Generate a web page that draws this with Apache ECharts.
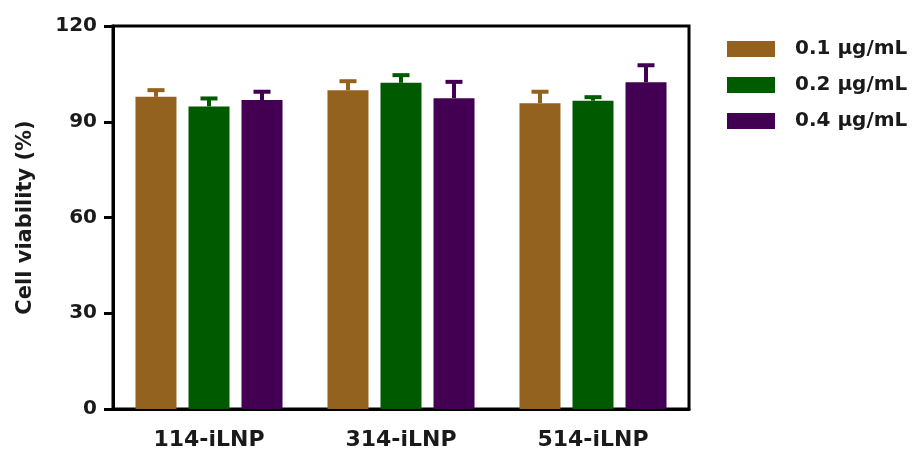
<!DOCTYPE html>
<html>
<head>
<meta charset="utf-8">
<script src="https://cdn.jsdelivr.net/npm/echarts@6/dist/echarts.min.js"></script>
<style>
  html, body { margin: 0; padding: 0; background: #fff; }
  #chart { width: 915px; height: 457px; }
</style>
</head>
<body>
<div id="chart"></div>
<script>
// Formulations on the x axis
const categories = ['114-iLNP', '314-iLNP', '514-iLNP'];
// Dose groups (legend entries)
const doseNames = ['0.1 μg/mL', '0.2 μg/mL', '0.4 μg/mL'];
// Mean cell viability (%) per dose, one value per formulation
const mean01 = [97.8, 99.9, 95.8];
const mean02 = [94.8, 102.2, 96.6];
const mean04 = [96.8, 97.4, 102.4];
// Upper end of the error bar (mean + SD)
const upper01 = [99.9, 102.7, 99.4];
const upper02 = [97.3, 104.6, 97.7];
const upper04 = [99.4, 102.5, 107.7];
// Y axis ticks
const yTicks = [0, 30, 60, 90, 120];

const means = [mean01, mean02, mean04];
const uppers = [upper01, upper02, upper04];
const colors = ['#93621f', '#005a00', '#430052'];

const FONT = 'DejaVu Sans';
const BAR_W = 41;
const BAR_GAP = 12;

const chart = echarts.init(document.getElementById('chart'));

const barSeries = doseNames.map((name, i) => ({
  name: name,
  type: 'bar',
  data: means[i],
  barWidth: BAR_W,
  barGap: (BAR_GAP / BAR_W * 100).toFixed(1) + '%',
  itemStyle: { color: colors[i] },
  z: 2
}));

// Error bars (upper whisker with cap) drawn over each bar
const errSeries = doseNames.map((name, i) => ({
  name: name + ' SD',
  type: 'custom',
  z: 3,
  data: categories.map((c, k) => [k, means[i][k], uppers[i][k]]),
  encode: { x: 0, y: [1, 2] },
  renderItem: function (params, api) {
    const base = api.coord([api.value(0), api.value(1)]);
    const top = api.coord([api.value(0), api.value(2)]);
    const cx = base[0] + (i - 1) * (BAR_W + BAR_GAP);
    const stemW = 4, capW = 17, capH = 4;
    return {
      type: 'group',
      children: [
        { type: 'rect', shape: { x: cx - stemW / 2, y: top[1], width: stemW, height: base[1] - top[1] },
          style: { fill: colors[i] } },
        { type: 'rect', shape: { x: cx - capW / 2, y: top[1] - capH / 2, width: capW, height: capH },
          style: { fill: colors[i] } }
      ]
    };
  }
}));

chart.setOption({
  animation: false,
  backgroundColor: '#fff',
  grid: {
    left: 113, right: 226, top: 26, bottom: 48,
    show: true, borderColor: '#000', borderWidth: 3, backgroundColor: 'transparent'
  },
  legend: {
    data: doseNames,
    orient: 'vertical',
    left: 722, top: 34,
    itemWidth: 48, itemHeight: 16, itemGap: 16,
    icon: 'rect',
    textStyle: { fontFamily: FONT, fontWeight: 'bold', fontSize: 20, lineHeight: 20, color: '#1a1a1a', padding: [0, 0, 0, 15] }
  },
  xAxis: {
    type: 'category',
    data: categories,
    axisLine: { lineStyle: { color: '#000', width: 3 } },
    axisTick: { alignWithLabel: true, length: 10, lineStyle: { color: '#000', width: 3 } },
    axisLabel: { fontFamily: FONT, fontWeight: 'bold', fontSize: 22, color: '#1a1a1a', margin: 20 }
  },
  yAxis: {
    type: 'value',
    min: yTicks[0], max: yTicks[yTicks.length - 1], interval: 30,
    name: 'Cell viability (%)',
    nameLocation: 'middle',
    nameGap: 77,
    nameTextStyle: { fontFamily: FONT, fontWeight: 'bold', fontSize: 21, color: '#1a1a1a' },
    axisLine: { show: true, lineStyle: { color: '#000', width: 3 } },
    axisTick: { show: true, length: 9, lineStyle: { color: '#000', width: 3 } },
    splitLine: { show: false },
    axisLabel: { fontFamily: FONT, fontWeight: 'bold', fontSize: 20, color: '#1a1a1a', margin: 16 }
  },
  series: barSeries.concat(errSeries)
});
</script>
</body>
</html>
